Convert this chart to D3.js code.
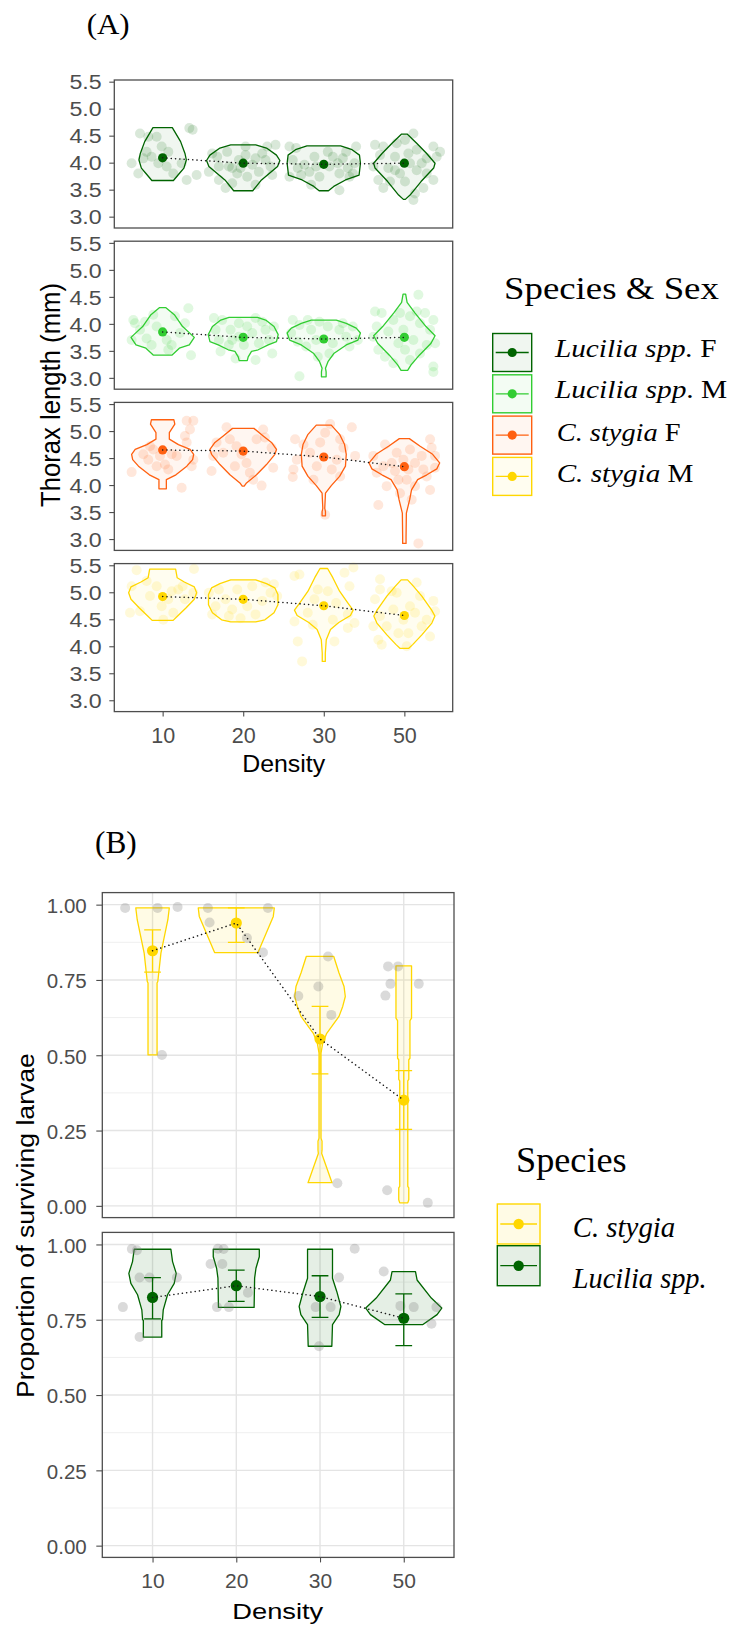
<!DOCTYPE html>
<html>
<head>
<meta charset="utf-8">
<script src="https://cdn.jsdelivr.net/npm/d3@7"></script>
<style>
  body { margin: 0; background: #fff; }
  svg { display: block; }
</style>
</head>
<body>
<script>
// ---- data ----
var densities = ["10", "20", "30", "50"];
var thoraxTicks = [3.0, 3.5, 4.0, 4.5, 5.0, 5.5];
var survivalTicks = [0, 0.25, 0.5, 0.75, 1];
var survivalMinor = [0.125, 0.375, 0.625, 0.875];

var sexGroups = ["Lucilia spp. F", "Lucilia spp. M", "C. stygia F", "C. stygia M"];
var speciesGroups = ["C. stygia", "Lucilia spp."];

// (A) thorax length: group means per density
var lucFMeans = [4.09, 3.99, 3.97, 3.99];
var lucMMeans = [3.85, 3.75, 3.72, 3.75];
var cstFMeans = [4.65, 4.63, 4.52, 4.34];
var cstMMeans = [4.92, 4.87, 4.75, 4.57];

// violin outlines: [value, half width as share of category step]
var lucFViolins = [
  [[4.65, 0.12], [4.39, 0.223], [4.17, 0.277], [4.05, 0.294], [3.9, 0.264], [3.8, 0.207], [3.67, 0.134]],
  [[4.33, 0.155], [4.27, 0.289], [4.14, 0.413], [4.04, 0.455], [3.93, 0.426], [3.68, 0.227], [3.48, 0.118]],
  [[4.31, 0.209], [4.24, 0.351], [4.14, 0.443], [3.99, 0.455], [3.77, 0.438], [3.68, 0.269], [3.56, 0.124], [3.48, 0.058]],
  [[4.53, 0.034], [4.36, 0.153], [4.17, 0.277], [3.99, 0.381], [3.9, 0.364], [3.65, 0.207], [3.4, 0.071], [3.32, 0.012]]
];
var lucMViolins = [
  [[4.3, 0.041], [4.17, 0.145], [3.95, 0.248], [3.75, 0.393], [3.61, 0.331], [3.55, 0.207], [3.42, 0.114]],
  [[4.12, 0.176], [4.07, 0.279], [3.95, 0.382], [3.8, 0.434], [3.67, 0.413], [3.61, 0.31], [3.52, 0.186], [3.49, 0.103], [3.39, 0.062], [3.32, 0.05]],
  [[4.07, 0.155], [4.01, 0.279], [3.92, 0.403], [3.83, 0.455], [3.7, 0.424], [3.61, 0.279], [3.45, 0.124], [3.3, 0.052], [3.18, 0.021], [3.11, 0.029], [3.02, 0.029]],
  [[4.55, 0.016], [4.4, 0.034], [4.2, 0.133], [3.95, 0.269], [3.78, 0.381], [3.64, 0.331], [3.42, 0.186], [3.24, 0.083], [3.14, 0.041]]
];
var cstFViolins = [
  [[5.21, 0.139], [5.13, 0.151], [4.97, 0.083], [4.85, 0.083], [4.75, 0.196], [4.66, 0.341], [4.57, 0.385], [4.47, 0.372], [4.35, 0.3], [4.19, 0.165], [4.1, 0.046], [3.93, 0.046]],
  [[5.05, 0.133], [4.91, 0.248], [4.79, 0.351], [4.66, 0.413], [4.57, 0.393], [4.38, 0.289], [4.19, 0.165], [4.04, 0.041], [3.98, 0.012]],
  [[5.11, 0.093], [4.94, 0.196], [4.75, 0.258], [4.57, 0.279], [4.35, 0.269], [4.16, 0.196], [3.99, 0.093], [3.85, 0.021], [3.57, 0.012], [3.51, 0.021], [3.43, 0.021]],
  [[4.86, 0.062], [4.72, 0.196], [4.57, 0.351], [4.41, 0.438], [4.3, 0.403], [4.19, 0.279], [4.1, 0.165], [3.91, 0.089], [3.73, 0.066], [3.48, 0.025], [3.04, 0.021], [2.92, 0.021]]
];
var cstMViolins = [
  [[5.43, 0.161], [5.27, 0.18], [5.19, 0.269], [5.1, 0.393], [4.99, 0.422], [4.87, 0.393], [4.71, 0.289], [4.56, 0.186], [4.48, 0.13]],
  [[5.23, 0.155], [5.16, 0.289], [5.08, 0.393], [4.96, 0.431], [4.77, 0.431], [4.62, 0.382], [4.49, 0.269], [4.45, 0.155]],
  [[5.44, 0.047], [5.27, 0.112], [5.02, 0.196], [4.8, 0.3], [4.67, 0.364], [4.57, 0.331], [4.44, 0.186], [4.31, 0.083], [4.12, 0.031], [3.87, 0.019], [3.72, 0.019]],
  [[5.23, 0.04], [5.11, 0.114], [4.93, 0.217], [4.67, 0.339], [4.56, 0.379], [4.43, 0.341], [4.21, 0.217], [4.03, 0.103], [3.96, 0.052]]
];

// jittered observations: [offset as share of category step, value]
var lucFPoints = [
  [[-0.281, 4.54], [-0.178, 4.48], [-0.074, 4.48], [-0.385, 3.99], [-0.302, 3.8], [-0.24, 4.08], [-0.137, 4.11], [-0.012, 4.3], [0.07, 4.2], [0.132, 3.8], [0.236, 3.99], [0.298, 3.68], [0.422, 3.77], [0.331, 4.64], [0.372, 4.61], [-0.054, 3.99], [0.05, 3.93], [-0.199, 4.2]],
  [[-0.385, 4.17], [-0.323, 4.11], [-0.426, 3.83], [-0.302, 3.68], [-0.219, 3.53], [-0.137, 3.62], [-0.137, 3.9], [-0.054, 4.05], [-0.074, 3.8], [0.05, 3.74], [0.112, 3.96], [0.194, 3.83], [0.277, 4.05], [0.339, 3.93], [0.401, 4.33], [0.298, 4.3], [0.236, 4.17], [0.029, 4.3], [0.153, 3.59], [-0.199, 4.2], [0.029, 4.14], [-0.302, 3.93], [0.36, 3.77], [-0.033, 3.9], [-0.178, 3.93], [0.153, 4.08]],
  [[-0.426, 4.3], [-0.343, 4.27], [-0.385, 4.05], [-0.426, 3.74], [-0.281, 3.77], [-0.24, 3.96], [-0.178, 3.83], [-0.116, 4.11], [-0.054, 3.74], [0.07, 3.93], [0.112, 4.11], [0.174, 3.99], [0.236, 4.08], [0.298, 3.9], [0.36, 3.8], [0.401, 4.3], [0.381, 3.99], [0.194, 3.49], [-0.157, 3.59], [0.05, 4.2], [0.277, 4.2], [-0.095, 3.93], [0.194, 3.8], [-0.323, 3.9], [0.319, 3.74]],
  [[-0.364, 4.33], [-0.261, 4.3], [-0.302, 4.14], [-0.385, 3.93], [-0.323, 3.68], [-0.261, 3.53], [-0.178, 3.65], [-0.199, 3.9], [-0.116, 4.11], [-0.095, 4.36], [0.008, 4.42], [0.112, 4.54], [0.153, 4.24], [0.215, 3.99], [0.277, 3.8], [0.36, 3.68], [0.401, 4.11], [0.36, 4.3], [0.443, 4.2], [0.132, 3.43], [0.112, 3.31], [-0.054, 3.8], [0.07, 3.99], [0.008, 3.65], [0.236, 3.53], [-0.116, 3.86], [0.153, 3.86], [0.05, 4.17], [0.277, 4.08]]
];
var lucMPoints = [
  [[-0.364, 4.07], [-0.343, 4.01], [-0.385, 3.7], [-0.281, 3.89], [-0.199, 3.73], [-0.116, 4.17], [-0.074, 3.95], [0.05, 3.7], [0.112, 3.61], [0.07, 3.52], [0.215, 3.83], [0.277, 4.01], [0.319, 4.29], [0.352, 3.42], [0.153, 4.14], [-0.137, 3.61], [-0.219, 4.04]],
  [[-0.364, 4.11], [-0.261, 4.07], [-0.343, 3.89], [-0.302, 3.7], [-0.281, 3.49], [-0.157, 3.89], [-0.137, 3.7], [-0.054, 4.01], [0.05, 3.95], [0.112, 3.83], [0.153, 4.11], [0.236, 4.04], [0.277, 3.89], [0.319, 3.7], [0.36, 3.45], [0.381, 3.95], [0.153, 3.33], [-0.095, 3.36], [0.008, 3.61], [-0.178, 3.61], [0.194, 3.64], [-0.054, 3.76]],
  [[-0.385, 4.07], [-0.302, 3.98], [-0.405, 3.83], [-0.323, 3.67], [-0.219, 3.58], [-0.157, 3.89], [-0.095, 3.7], [-0.054, 4.04], [0.05, 3.95], [0.112, 3.64], [0.194, 3.89], [0.277, 3.76], [0.36, 3.95], [0.422, 3.7], [0.236, 4.01], [0.07, 3.45], [-0.074, 3.39], [-0.302, 3.03], [0.319, 3.58], [-0.199, 4.07]],
  [[-0.364, 4.23], [-0.281, 4.2], [-0.343, 3.95], [-0.385, 3.76], [-0.323, 3.52], [-0.24, 3.39], [-0.199, 3.86], [-0.137, 4.07], [-0.074, 3.64], [-0.012, 3.89], [0.07, 4.14], [0.112, 3.7], [0.174, 4.54], [0.194, 4.01], [0.257, 4.2], [0.319, 3.89], [0.36, 4.07], [0.381, 3.64], [0.36, 3.21], [0.36, 3.11], [0.194, 3.45], [0.07, 3.33], [0.008, 3.52], [-0.137, 3.27], [0.153, 4.23], [-0.054, 4.2], [0.277, 3.61]]
];
var cstFPoints = [
  [[-0.385, 4.24], [-0.24, 4.57], [-0.178, 4.47], [-0.116, 4.66], [-0.033, 4.54], [0.07, 4.29], [0.029, 4.38], [0.112, 4.57], [0.174, 4.54], [0.236, 3.95], [0.298, 5.19], [0.339, 5.03], [0.381, 5.19], [0.298, 4.79], [0.277, 4.91], [0.36, 4.35], [0.381, 4.47], [-0.157, 4.72], [-0.074, 4.35]],
  [[-0.393, 4.26], [-0.372, 4.54], [-0.331, 4.79], [-0.207, 5.07], [-0.166, 4.85], [-0.083, 4.72], [-0.021, 4.57], [0.041, 4.41], [0.083, 4.23], [0.166, 4.85], [0.248, 5.03], [0.269, 4.88], [0.352, 4.69], [0.372, 4.32], [0.228, 3.99], [0.124, 4.1], [-0.103, 4.35], [-0.248, 4.6]],
  [[-0.356, 4.85], [-0.335, 4.47], [-0.376, 4.29], [-0.385, 4.15], [-0.252, 4.75], [-0.17, 4.6], [-0.087, 4.35], [-0.045, 4.79], [0.017, 4.97], [0.079, 5.13], [0.099, 4.29], [0.161, 4.47], [0.203, 4.16], [0.348, 5.07], [0.389, 4.54], [0.244, 4.69], [-0.128, 4.1], [0.017, 3.45], [0.203, 4.85]],
  [[-0.385, 4.54], [-0.343, 4.23], [-0.323, 3.63], [-0.219, 3.98], [-0.24, 4.75], [-0.157, 4.41], [-0.095, 4.6], [-0.074, 4.1], [-0.012, 4.47], [0.05, 4.29], [0.07, 4.66], [0.132, 4.41], [0.215, 4.54], [0.277, 4.16], [0.319, 4.85], [0.339, 4.69], [0.381, 4.54], [0.319, 3.91], [0.174, 2.92], [0.132, 3.98], [-0.054, 3.85], [0.091, 3.73], [0.236, 4.29], [-0.116, 4.26], [-0.261, 4.35], [0.381, 4.32], [0.029, 4.1]]
];
var cstMPoints = [
  [[-0.323, 5.41], [-0.385, 5.11], [-0.405, 4.62], [-0.281, 4.65], [-0.157, 4.93], [-0.012, 4.74], [0.07, 4.87], [0.112, 5.02], [0.194, 5.05], [0.248, 5.11], [0.277, 4.87], [0.389, 5.43], [0.381, 4.99], [-0.074, 5.11], [0.008, 4.49], [-0.199, 5.21], [0.132, 4.62]],
  [[-0.385, 4.59], [-0.343, 4.74], [-0.426, 4.99], [-0.302, 5.05], [-0.219, 4.87], [-0.137, 4.68], [-0.074, 5.05], [0.05, 4.74], [0.112, 5.11], [0.153, 4.59], [0.236, 4.84], [0.277, 5.18], [0.339, 4.99], [0.381, 5.15], [0.422, 4.93], [-0.033, 4.52], [-0.178, 4.56]],
  [[-0.364, 5.3], [-0.302, 5.33], [-0.364, 4.46], [-0.323, 4.09], [-0.269, 3.72], [-0.199, 4.62], [-0.116, 4.87], [-0.074, 5.05], [0.05, 5.02], [0.112, 4.49], [0.132, 4.09], [0.257, 5.36], [0.319, 5.11], [0.368, 5.46], [0.298, 4.59], [0.381, 4.43], [0.153, 4.8], [-0.137, 4.4], [0.298, 4.34]],
  [[-0.302, 5.24], [-0.364, 4.87], [-0.302, 4.56], [-0.385, 4.37], [-0.323, 4.12], [-0.281, 4.03], [-0.219, 4.37], [-0.137, 4.68], [-0.095, 4.99], [-0.012, 4.49], [0.07, 4.74], [0.05, 4.24], [0.132, 4.62], [0.194, 4.93], [0.215, 4.37], [0.277, 4.49], [0.319, 4.18], [0.36, 4.84], [0.381, 4.65], [0.029, 4.0], [-0.074, 4.24], [0.153, 5.18], [-0.157, 5.02], [-0.302, 5.05]]
];

// (B) proportion of surviving larvae
var cstSurvMeans = [0.847, 0.939, 0.554, 0.351];
var cstSurvLow = [0.776, 0.875, 0.438, 0.254];
var cstSurvHigh = [0.916, 0.989, 0.662, 0.449];
var lucSurvMeans = [0.824, 0.863, 0.827, 0.755];
var lucSurvLow = [0.753, 0.811, 0.758, 0.664];
var lucSurvHigh = [0.89, 0.915, 0.896, 0.836];

var cstSurvViolins = [
  [[0.989, 0.2], [0.95, 0.183], [0.839, 0.1], [0.745, 0.063], [0.74, 0.054], [0.501, 0.054]],
  [[0.989, 0.454], [0.961, 0.442], [0.841, 0.259]],
  [[0.828, 0.164], [0.773, 0.227], [0.728, 0.287], [0.695, 0.302], [0.662, 0.271], [0.629, 0.227], [0.573, 0.08], [0.54, 0.032], [0.507, 0.012], [0.225, 0.012], [0.215, 0.024], [0.185, 0.024], [0.174, 0.02], [0.077, 0.143]],
  [[0.797, 0.093], [0.623, 0.093], [0.615, 0.074], [0.49, 0.074], [0.485, 0.06], [0.42, 0.06], [0.415, 0.048], [0.065, 0.048], [0.06, 0.06], [0.02, 0.06], [0.01, 0.048]]
];
var lucSurvViolins = [
  [[0.984, 0.219], [0.943, 0.239], [0.904, 0.283], [0.871, 0.259], [0.833, 0.179], [0.783, 0.128], [0.75, 0.119], [0.748, 0.11], [0.692, 0.11]],
  [[0.984, 0.275], [0.959, 0.275], [0.921, 0.235], [0.888, 0.219], [0.791, 0.213]],
  [[0.984, 0.149], [0.888, 0.149], [0.844, 0.2], [0.794, 0.249], [0.767, 0.229], [0.734, 0.149], [0.662, 0.141]],
  [[0.91, 0.14], [0.882, 0.159], [0.822, 0.329], [0.789, 0.454], [0.767, 0.398], [0.734, 0.229]]
];
var cstSurvPoints = [
  [[-0.327, 0.989], [0.06, 0.989], [0.299, 0.992], [0.112, 0.501]],
  [[-0.339, 0.989], [0.378, 0.989], [-0.319, 0.941], [0.127, 0.889], [0.319, 0.841]],
  [[0.096, 0.828], [-0.259, 0.697], [-0.02, 0.728], [0.135, 0.634], [0.207, 0.075]],
  [[-0.187, 0.795], [-0.068, 0.795], [-0.159, 0.737], [0.179, 0.737], [-0.219, 0.698], [-0.198, 0.052], [0.287, 0.01]]
];
var lucSurvPoints = [
  [[-0.247, 0.985], [-0.187, 0.981], [-0.155, 0.89], [-0.036, 0.89], [0.291, 0.89], [-0.354, 0.792], [-0.155, 0.693]],
  [[-0.219, 0.986], [-0.151, 0.985], [-0.307, 0.935], [-0.167, 0.935], [0.139, 0.84], [-0.231, 0.792], [-0.088, 0.792]],
  [[0.414, 0.986], [0.227, 0.89], [-0.052, 0.792], [0.127, 0.792], [-0.012, 0.662]],
  [[-0.239, 0.91], [-0.04, 0.796], [0.119, 0.792], [0.39, 0.792], [0.331, 0.737]]
];

// ---- styles ----
var sexColors = ["#006400", "#32cd32", "#ff6010", "#ffd700"];
var speciesColors = ["#ffd700", "#006400"];
var sans = "'Liberation Sans', Arial, sans-serif";
var serif = "'Liberation Serif', 'Times New Roman', serif";
var frame = "#4d4d4d";

var svg = d3.select("body").append("svg").attr("width", 732).attr("height", 1627);

// text helper: stretches text to a measured width so it sits like the figure
function label(parent, x, y, parts, o) {
  var g = parent.append("g")
    .attr("transform", "translate(" + x + "," + y + ")" + (o.rotate ? " rotate(-90)" : ""));
  var t = g.append("text")
    .attr("font-family", o.family)
    .attr("font-size", o.size)
    .attr("fill", o.color || "#000")
    .attr("text-anchor", o.anchor || "start")
    .style("white-space", "pre");
  parts.forEach(function (p) {
    t.append("tspan").attr("font-style", p[1] ? "italic" : "normal").text(p[0]);
  });
  var sx = o.width ? o.width / t.node().getComputedTextLength() : 1;
  t.attr("transform", "scale(" + sx + "," + (o.sy || 1) + ")");
  return t;
}

function drawGroup(g, x, y, color, violins, points, means, opt) {
  var step = x.step();
  var area = d3.area()
    .y(function (d) { return y(d[0]); })
    .curve(d3.curveLinear);

  violins.forEach(function (prof, i) {
    var cx = x(densities[i]);
    area.x0(function (d) { return cx - d[1] * step; })
        .x1(function (d) { return cx + d[1] * step; });
    g.append("path")
      .attr("d", area(prof))
      .attr("fill", color)
      .attr("fill-opacity", opt.fillOpacity)
      .attr("stroke", color)
      .attr("stroke-width", 1.3)
      .attr("stroke-linejoin", "round");
  });

  points.forEach(function (grp, i) {
    var cx = x(densities[i]);
    g.selectAll(null)
      .data(grp)
      .enter()
      .append("circle")
      .attr("cx", function (d) { return cx + d[0] * step; })
      .attr("cy", function (d) { return y(d[1]); })
      .attr("r", 5)
      .attr("fill", opt.pointColor || color)
      .attr("fill-opacity", opt.pointOpacity);
  });

  if (opt.low) {
    means.forEach(function (m, i) {
      var cx = x(densities[i]);
      var hw = step * 0.1;
      g.append("path")
        .attr("d", "M" + (cx - hw) + "," + y(opt.high[i]) + "H" + (cx + hw) +
          "M" + cx + "," + y(opt.high[i]) + "V" + y(opt.low[i]) +
          "M" + (cx - hw) + "," + y(opt.low[i]) + "H" + (cx + hw))
        .attr("stroke", color)
        .attr("stroke-width", 1.3)
        .attr("fill", "none");
    });
  }

  g.selectAll(null)
    .data(means)
    .enter()
    .append("circle")
    .attr("cx", function (d, i) { return x(densities[i]); })
    .attr("cy", function (d) { return y(d); })
    .attr("r", opt.meanR)
    .attr("fill", color);

  var line = d3.line()
    .x(function (d, i) { return x(densities[i]); })
    .y(function (d) { return y(d); });
  g.append("path")
    .attr("d", line(means))
    .attr("fill", "none")
    .attr("stroke", "#1a1a1a")
    .attr("stroke-width", 1.5)
    .attr("stroke-linecap", "round")
    .attr("stroke-dasharray", "0.1 4.2");
}

function styleAxis(ax, size, color) {
  ax.select(".domain").remove();
  ax.selectAll(".tick line").attr("stroke", frame).attr("stroke-width", 1.1);
  ax.selectAll(".tick text")
    .attr("font-family", sans)
    .attr("font-size", size)
    .attr("fill", color);
}

// ===================== (A) =====================
label(svg, 86.7, 33.5, [["(A)", false]], { family: serif, size: 30, width: 43 });

var aLeft = 114.3, aRight = 452.7, aHeight = 148;
var aTops = [80, 241.2, 402.4, 563.6];
var xA = d3.scalePoint().domain(densities).range([aLeft, aRight]).padding(0.6);

var aMeans = [lucFMeans, lucMMeans, cstFMeans, cstMMeans];
var aViolins = [lucFViolins, lucMViolins, cstFViolins, cstMViolins];
var aPoints = [lucFPoints, lucMPoints, cstFPoints, cstMPoints];

aTops.forEach(function (top, k) {
  var y = d3.scaleLinear().domain([2.79, 5.531]).range([top + aHeight, top]);
  var g = svg.append("g");
  drawGroup(g, xA, y, sexColors[k], aViolins[k], aPoints[k], aMeans[k], {
    fillOpacity: 0.06, pointOpacity: 0.15, meanR: 4.6
  });
  svg.append("rect")
    .attr("x", aLeft).attr("y", top)
    .attr("width", aRight - aLeft).attr("height", aHeight)
    .attr("fill", "none").attr("stroke", frame).attr("stroke-width", 1.3);

  var ax = svg.append("g")
    .attr("transform", "translate(" + aLeft + ",0)")
    .call(d3.axisLeft(y).tickValues(thoraxTicks).tickFormat(d3.format(".1f")).tickSize(5));
  styleAxis(ax, 20, "#4d4d4d");
  ax.selectAll(".tick text").attr("x", -10.9).attr("dy", "0.36em").attr("transform", "scale(1.16,1)");
});

var axA = svg.append("g")
  .attr("transform", "translate(0," + (aTops[3] + aHeight) + ")")
  .call(d3.axisBottom(xA).tickSize(5));
styleAxis(axA, 21.5, "#4d4d4d");
axA.selectAll(".tick text").attr("y", 16.4).attr("dy", "0.71em");

label(svg, 283.7, 771.7, [["Density", false]], { family: sans, size: 23, width: 83, anchor: "middle" });
label(svg, 60, 395, [["Thorax length (mm)", false]], { family: sans, size: 24, width: 224, anchor: "middle", rotate: true, sy: 1.12 });

// legend A
label(svg, 504, 299.3, [["Species & Sex", false]], { family: serif, size: 32, width: 215 });
var legA = [
  { parts: [["Lucilia spp.", true], [" F", false]], base: 356.7, w: 161.7 },
  { parts: [["Lucilia spp", true], [". M", false]], base: 397.7, w: 172.3 },
  { parts: [["C. stygia", true], [" F", false]], base: 441, w: 124 },
  { parts: [["C. stygia", true], [" M", false]], base: 482.3, w: 136.7 }
];
sexGroups.forEach(function (name, i) {
  var ky = 333.5 + i * 41.3, kx = 492.7, kw = 39, kh = 38;
  var c = sexColors[i];
  svg.append("rect").attr("x", kx).attr("y", ky).attr("width", kw).attr("height", kh)
    .attr("fill", c).attr("fill-opacity", 0.06).attr("stroke", c).attr("stroke-width", 1.4);
  svg.append("line").attr("x1", kx + 3).attr("x2", kx + kw - 3)
    .attr("y1", ky + kh / 2).attr("y2", ky + kh / 2).attr("stroke", c).attr("stroke-width", 1.3);
  svg.append("circle").attr("cx", kx + kw / 2).attr("cy", ky + kh / 2).attr("r", 4.6).attr("fill", c);
  label(svg, i < 2 ? 555 : 556.7, legA[i].base, legA[i].parts, { family: serif, size: 25, width: legA[i].w });
});

// ===================== (B) =====================
label(svg, 95, 853.3, [["(B)", false]], { family: serif, size: 31, width: 41.7 });

var bLeft = 102.3, bRight = 454, bHeight = 325;
var bTops = [892.6, 1232.4];
var xB = d3.scalePoint().domain(densities).range([bLeft, bRight]).padding(0.6);

var bMeans = [cstSurvMeans, lucSurvMeans];
var bLow = [cstSurvLow, lucSurvLow];
var bHigh = [cstSurvHigh, lucSurvHigh];
var bViolins = [cstSurvViolins, lucSurvViolins];
var bPoints = [cstSurvPoints, lucSurvPoints];

bTops.forEach(function (top, k) {
  var y = d3.scaleLinear().domain([-0.039, 1.04]).range([top + bHeight, top]);
  var grid = svg.append("g");
  grid.selectAll(null).data(survivalMinor).enter().append("line")
    .attr("x1", bLeft).attr("x2", bRight)
    .attr("y1", function (d) { return y(d); }).attr("y2", function (d) { return y(d); })
    .attr("stroke", "#efefef").attr("stroke-width", 1);
  grid.selectAll(null).data(survivalTicks).enter().append("line")
    .attr("x1", bLeft).attr("x2", bRight)
    .attr("y1", function (d) { return y(d); }).attr("y2", function (d) { return y(d); })
    .attr("stroke", "#e4e4e4").attr("stroke-width", 1.4);
  grid.selectAll(null).data(densities).enter().append("line")
    .attr("x1", function (d) { return xB(d); }).attr("x2", function (d) { return xB(d); })
    .attr("y1", top).attr("y2", top + bHeight)
    .attr("stroke", "#e4e4e4").attr("stroke-width", 1.4);

  var g = svg.append("g");
  drawGroup(g, xB, y, speciesColors[k], bViolins[k], bPoints[k], bMeans[k], {
    fillOpacity: 0.1, pointOpacity: 0.28, pointColor: "#7a7a7a", meanR: 5.6,
    low: bLow[k], high: bHigh[k]
  });

  svg.append("rect")
    .attr("x", bLeft).attr("y", top)
    .attr("width", bRight - bLeft).attr("height", bHeight)
    .attr("fill", "none").attr("stroke", frame).attr("stroke-width", 1.3);

  var ax = svg.append("g")
    .attr("transform", "translate(" + bLeft + ",0)")
    .call(d3.axisLeft(y).tickValues(survivalTicks).tickFormat(d3.format(".2f")).tickSize(6));
  styleAxis(ax, 20.5, "#4d4d4d");
  ax.selectAll(".tick text").attr("x", -15.6).attr("dy", "0.38em");
});

var axB = svg.append("g")
  .attr("transform", "translate(0," + (bTops[1] + bHeight) + ")")
  .call(d3.axisBottom(xB).tickSize(5));
styleAxis(axB, 21, "#4d4d4d");
axB.selectAll(".tick text").attr("y", 15.4).attr("dy", "0.71em");

label(svg, 277.8, 1619, [["Density", false]], { family: sans, size: 22, width: 91, anchor: "middle" });
label(svg, 33.5, 1225.5, [["Proportion of surviving larvae", false]], { family: sans, size: 24, width: 345, anchor: "middle", rotate: true });

// legend B
label(svg, 516, 1171.7, [["Species", false]], { family: serif, size: 35, width: 110.7 });
var legB = [
  { parts: [["C. stygia", true]], base: 1236.7, w: 102.6 },
  { parts: [["Lucilia spp.", true]], base: 1288.3, w: 134 }
];
speciesGroups.forEach(function (name, i) {
  var ky = 1204 + i * 41.7, kx = 497.3, kw = 42.7, kh = 40;
  var c = speciesColors[i];
  svg.append("rect").attr("x", kx).attr("y", ky).attr("width", kw).attr("height", kh)
    .attr("fill", c).attr("fill-opacity", 0.1).attr("stroke", c).attr("stroke-width", 1.4);
  svg.append("line").attr("x1", kx + 3).attr("x2", kx + kw - 3)
    .attr("y1", ky + kh / 2).attr("y2", ky + kh / 2).attr("stroke", c).attr("stroke-width", 1.3);
  svg.append("circle").attr("cx", kx + kw / 2).attr("cy", ky + kh / 2).attr("r", 5.2).attr("fill", c);
  label(svg, 572.7, legB[i].base, legB[i].parts, { family: serif, size: 29, width: legB[i].w });
});
</script>
</body>
</html>
